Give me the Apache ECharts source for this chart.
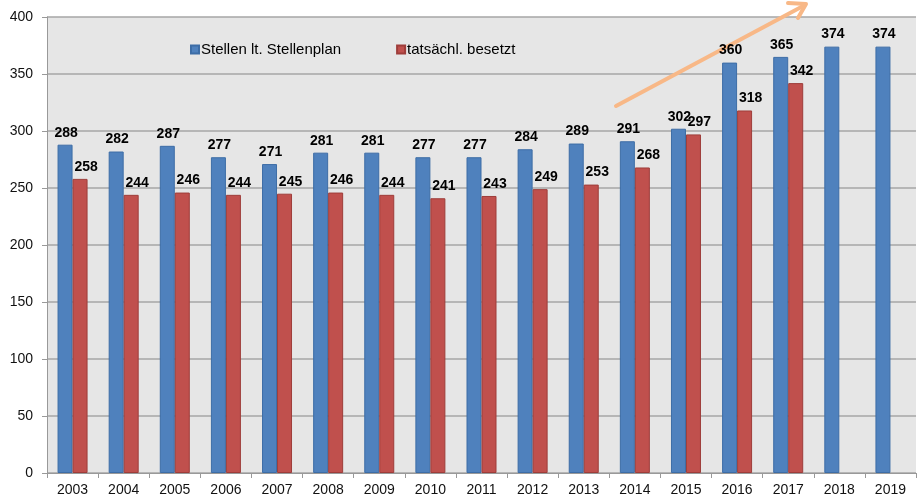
<!DOCTYPE html>
<html>
<head>
<meta charset="utf-8">
<script src="https://cdn.jsdelivr.net/npm/echarts@6/dist/echarts.min.js"></script>
<style>
html, body { margin: 0; padding: 0; background: #fff; }
#main { width: 918px; height: 497px; }
</style>
</head>
<body>
<div id="main"></div>
<script>
var years = ['2003', '2004', '2005', '2006', '2007', '2008', '2009', '2010', '2011',
    '2012', '2013', '2014', '2015', '2016', '2017', '2018', '2019'];
var stellenplan = [288, 282, 287, 277, 271, 281, 281, 277, 277, 284, 289, 291, 302, 360, 365, 374, 374];
var besetzt = [258, 244, 246, 244, 245, 246, 244, 241, 243, 249, 253, 268, 297, 318, 342, '-', '-'];

var chart = echarts.init(document.getElementById('main'));

var font = 'Liberation Sans, Arial, sans-serif';

var option = {
    backgroundColor: '#fff',
    animation: false,
    textStyle: { fontFamily: font },
    legend: {
        left: 185,
        top: 37,
        itemWidth: 8,
        itemHeight: 8,
        itemGap: 55,
        icon: 'rect',
        textStyle: { color: '#000', fontSize: 15, padding: [0, 0, 0, -3] },
        data: ['Stellen lt. Stellenplan', 'tatsächl. besetzt']
    },
    grid: {
        left: 47,
        right: 2,
        top: 17,
        bottom: 23,
        show: true,
        backgroundColor: '#e6e6e6',
        borderWidth: 0
    },
    xAxis: {
        type: 'category',
        data: years,
        axisLine: { lineStyle: { color: '#999', width: 1 } },
        axisTick: { show: true, length: 5, lineStyle: { color: '#999' } },
        axisLabel: { color: '#111', fontSize: 14, margin: 10 }
    },
    yAxis: {
        type: 'value',
        min: 0,
        max: 400,
        interval: 50,
        axisLine: { show: true, lineStyle: { color: '#999' } },
        axisTick: { show: true, length: 5, lineStyle: { color: '#999' } },
        axisLabel: { color: '#111', fontSize: 14, margin: 14 },
        splitLine: { lineStyle: { color: '#a6a6a6', width: 1.5 } }
    },
    series: [
        {
            name: 'Stellen lt. Stellenplan',
            type: 'bar',
            z: 3,
            data: stellenplan,
            barWidth: 15,
            barGap: '0%',
            itemStyle: { color: '#4f81bd', borderColor: '#3d6da6', borderWidth: 1 },
            label: {
                show: true, position: 'top', distance: 5, offset: [1, 0],
                color: '#000', fontWeight: 'bold', fontSize: 14, fontFamily: font
            }
        },
        {
            name: 'tatsächl. besetzt',
            type: 'bar',
            z: 3,
            data: besetzt,
            barWidth: 15,
            barGap: '0%',
            itemStyle: { color: '#c0504d', borderColor: '#9e3d3a', borderWidth: 1 },
            label: {
                show: true, position: 'top', distance: 5, offset: [6, 0],
                color: '#000', fontWeight: 'bold', fontSize: 14, fontFamily: font
            }
        }
    ],
    // Trendpfeil (Annotation)
    graphic: [
        {
            type: 'polyline',
            z: 2,
            shape: { points: [[616, 106], [805, 5]] },
            style: { stroke: '#f8b887', lineWidth: 4, lineCap: 'round' }
        },
        {
            type: 'polyline',
            z: 2,
            shape: { points: [[788, 3], [806, 4], [798, 18]] },
            style: { stroke: '#f8b887', lineWidth: 4, lineCap: 'round', lineJoin: 'round', fill: null }
        }
    ]
};
chart.setOption(option);
</script>
</body>
</html>
